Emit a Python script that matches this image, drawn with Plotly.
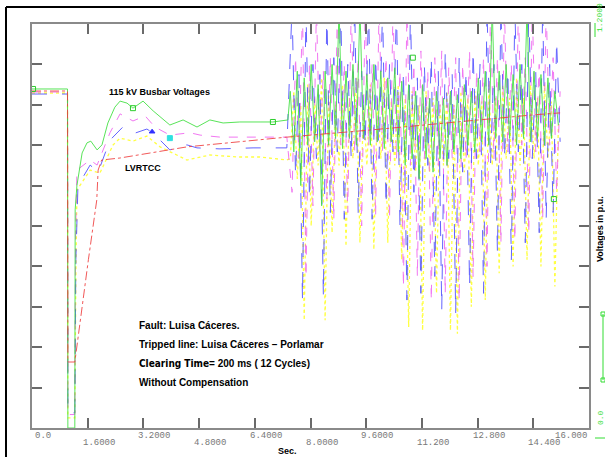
import plotly.graph_objects as go

# ---------------- data ----------------
x_tick_vals = [0.0, 1.6, 3.2, 4.8, 6.4, 8.0, 9.6, 11.2, 12.8, 14.4, 16.0]
x_tick_text = ["0.0", "1.6000", "3.2000", "4.8000", "6.4000", "8.0000",
               "9.6000", "11.200", "12.800", "14.400", "16.000"]
y_tick_vals = [0.0, 0.12, 0.24, 0.36, 0.48, 0.60, 0.72, 0.84, 0.96, 1.08, 1.2]

# smooth part (pre-fault, fault, recovery) ---------------------------
green_t = [0, 1.02, 1.03, 1.23, 1.24, 1.29, 1.44, 1.58, 1.69, 1.87, 2.01, 2.18,
           2.38, 2.53, 2.73, 2.90, 3.19, 3.48, 3.96, 4.34, 4.74, 5.11, 5.49,
           5.97, 6.55, 6.92, 7.35]
green_v = [1.007, 1.007, 0.0, 0.0, 0.648, 0.72, 0.817, 0.847, 0.852, 0.826,
           0.841, 0.906, 0.953, 0.971, 0.965, 0.950, 0.971, 0.942, 0.900,
           0.915, 0.894, 0.915, 0.906, 0.909, 0.909, 0.909, 0.915]

magenta_t = [0, 1.02, 1.03, 1.23, 1.25, 1.29, 1.67, 1.87, 2.24, 2.53, 2.90,
             3.25, 3.53, 3.96, 4.54, 4.83, 5.40, 6.35, 7.32]
magenta_v = [0.998, 0.998, 0.040, 0.040, 0.56, 0.766, 0.796, 0.781, 0.877,
             0.933, 0.912, 0.927, 0.894, 0.870, 0.877, 0.870, 0.864, 0.864, 0.864]

blue_t = [0, 1.02, 1.03, 1.23, 1.26, 1.32, 1.67, 1.90, 2.24, 2.61, 2.96, 3.30,
          3.48, 3.96, 4.45, 4.74, 5.40, 6.35, 7.32]
blue_v = [0.992, 0.992, 0.045, 0.045, 0.50, 0.72, 0.781, 0.760, 0.855, 0.894,
          0.876, 0.888, 0.876, 0.826, 0.841, 0.832, 0.829, 0.832, 0.832]

yellow_t = [0, 1.02, 1.03, 1.23, 1.26, 1.29, 1.67, 1.95, 2.33, 2.53, 2.90,
            3.30, 3.68, 4.25, 4.45, 5.11, 5.89, 6.55, 7.32]
yellow_v = [0.995, 0.995, 0.030, 0.030, 0.45, 0.707, 0.766, 0.757, 0.841,
            0.861, 0.852, 0.867, 0.835, 0.805, 0.796, 0.811, 0.805, 0.805, 0.796]

lvrtcc_t = [0, 1.02, 1.03, 1.23, 1.62, 1.86, 1.90, 2.00, 2.53, 4.45, 7.32,
            9.71, 14.39, 15.17]
lvrtcc_v = [1.001, 1.001, 0.196, 0.196, 0.50, 0.677, 0.766, 0.796, 0.802,
            0.835, 0.864, 0.885, 0.930, 0.936]

# oscillating part (after ~7.4 s) ----------------------------------
osc_t_a = [7.42, 7.52, 7.62, 7.72, 7.82, 7.92, 8.02, 8.12, 8.22, 8.32,
           8.42, 8.52, 8.62, 8.72, 8.82, 8.92, 9.02, 9.12, 9.22, 9.32,
           9.42, 9.52, 9.62, 9.72, 9.82, 9.92, 10.02, 10.12, 10.22, 10.32,
           10.42, 10.52, 10.62, 10.72, 10.82, 10.92, 11.02, 11.12, 11.22, 11.32,
           11.42, 11.52, 11.62, 11.72, 11.82, 11.92, 12.02, 12.12, 12.22, 12.32,
           12.42, 12.52, 12.62, 12.72, 12.82, 12.92, 13.02, 13.12, 13.22, 13.32,
           13.42, 13.52, 13.62, 13.72, 13.82, 13.92, 14.02, 14.12, 14.22, 14.32,
           14.42, 14.52, 14.62, 14.72, 14.82, 14.92, 15.02, 15.12]
osc_t_b = [7.47, 7.57, 7.67, 7.77, 7.87, 7.97, 8.07, 8.17, 8.27, 8.37,
           8.47, 8.57, 8.67, 8.77, 8.87, 8.97, 9.07, 9.17, 9.27, 9.37,
           9.47, 9.57, 9.67, 9.77, 9.87, 9.97, 10.07, 10.17, 10.27, 10.37,
           10.47, 10.57, 10.67, 10.77, 10.87, 10.97, 11.07, 11.17, 11.27, 11.37,
           11.47, 11.57, 11.67, 11.77, 11.87, 11.97, 12.07, 12.17, 12.27, 12.37,
           12.47, 12.57, 12.67, 12.77, 12.87, 12.97, 13.07, 13.17, 13.27, 13.37,
           13.47, 13.57, 13.67, 13.77, 13.87, 13.97, 14.07, 14.17, 14.27, 14.37,
           14.47, 14.57, 14.67, 14.77, 14.87, 14.97, 15.07, 15.17]

green_osc = [1.00, 0.82, 1.06, 0.72, 1.04, 0.84, 1.08, 0.85, 1.02, 0.66,
             1.06, 0.84, 1.08, 0.86, 1.25, 0.83, 1.06, 0.86, 1.08, 0.84,
             1.25, 0.86, 1.05, 0.84, 1.08, 0.85, 1.06, 0.83, 1.04, 0.85,
             1.07, 0.82, 1.03, 0.78, 1.02, 0.80, 1.00, 0.74, 1.02, 0.80,
             0.98, 0.76, 1.00, 0.80, 0.98, 0.78, 1.00, 0.82, 0.99, 0.80,
             1.02, 0.84, 1.00, 0.82, 1.04, 0.85, 1.06, 0.84, 1.25, 0.86,
             1.06, 0.85, 1.08, 0.86, 1.05, 0.84, 1.08, 0.86, 1.25, 0.85,
             1.06, 0.86, 1.05, 0.84, 1.04, 0.86, 1.00, 0.90]
blue_osc = [1.25, 0.75, 1.05, 0.38, 1.25, 0.68, 1.08, 0.80, 1.05, 0.39,
            1.25, 0.64, 1.10, 0.82, 1.25, 0.62, 1.08, 0.80, 1.25, 0.64,
            1.06, 0.84, 1.25, 0.62, 1.10, 0.80, 1.25, 0.66, 1.08, 0.82,
            1.25, 0.60, 1.06, 0.38, 1.25, 0.70, 1.04, 0.40, 1.08, 0.78,
            1.10, 0.45, 1.06, 0.35, 1.12, 0.80, 1.05, 0.34, 1.10, 0.76,
            1.06, 0.42, 1.12, 0.80, 1.08, 0.40, 1.25, 0.78, 1.08, 0.52,
            1.25, 0.80, 1.06, 0.50, 1.25, 0.82, 1.08, 0.55, 1.25, 0.80,
            1.06, 0.58, 1.25, 0.62, 1.08, 0.64, 1.15, 0.85]
magenta_osc = [0.70, 1.10, 0.80, 1.25, 0.45, 1.08, 0.66, 1.25, 0.82, 1.06,
               0.68, 1.10, 0.62, 1.25, 0.84, 1.08, 0.64, 1.25, 0.82, 1.10,
               0.60, 1.25, 0.84, 1.08, 0.63, 1.25, 0.82, 1.10, 0.62, 1.25,
               0.80, 1.06, 0.42, 1.25, 0.78, 1.08, 0.45, 1.12, 0.80, 1.06,
               0.38, 1.10, 0.78, 1.12, 0.40, 1.07, 0.80, 1.10, 0.38, 1.08,
               0.80, 1.12, 0.45, 1.06, 0.82, 1.10, 0.48, 1.25, 0.80, 1.10,
               0.55, 1.25, 0.82, 1.08, 0.56, 1.25, 0.84, 1.10, 0.58, 1.25,
               0.82, 1.08, 0.62, 1.25, 0.84, 1.10, 0.70, 1.00]
yellow_osc = [0.80, 1.00, 0.74, 0.96, 0.32, 1.02, 0.60, 0.98, 0.78, 1.04,
              0.32, 1.00, 0.58, 0.96, 0.78, 1.02, 0.54, 0.98, 0.80, 1.04,
              0.55, 0.96, 0.78, 1.02, 0.53, 0.98, 0.80, 1.04, 0.55, 0.97,
              0.78, 1.02, 0.50, 0.98, 0.30, 1.00, 0.76, 0.96, 0.29, 1.00,
              0.76, 0.98, 0.40, 0.96, 0.78, 1.00, 0.29, 0.96, 0.28, 1.00,
              0.76, 0.98, 0.36, 1.00, 0.78, 0.97, 0.38, 1.02, 0.78, 0.98,
              0.46, 1.02, 0.80, 0.98, 0.48, 1.04, 0.78, 0.98, 0.50, 1.02,
              0.80, 0.98, 0.48, 1.02, 0.80, 0.97, 0.42, 0.90]

# small curve markers seen on the plot
green_mark_t = [0.03, 2.90, 6.92, 10.94, 14.99]
green_mark_v = [1.007, 0.950, 0.909, 1.10, 0.68]
cyan_mark_t = [3.96]
cyan_mark_v = [0.861]
blue_mark_t = [3.45]
blue_mark_v = [0.880]

# ---------------- layout constants (pixels) ----------------
W, H = 605, 457
L, R, T, B = 32, 589, 24, 428


def px(xp):
    return (xp - L) / (R - L)


def py(yp):
    return (B - yp) / (B - T)


fig = go.Figure()

series = [
    (yellow_t + osc_t_a, yellow_v + yellow_osc, "#ffff22", "dot", 1.3),
    (magenta_t + osc_t_b, magenta_v + magenta_osc, "#f060f0", "dash", 1.0),
    (blue_t + osc_t_b, blue_v + blue_osc, "#4848ff", "longdash", 1.0),
    (green_t + osc_t_a, green_v + green_osc, "#3ce03c", "solid", 1.0),
    (lvrtcc_t, lvrtcc_v, "#f03c3c", "dashdot", 1.0),
]
for xs, ys, col, dash, w in series:
    fig.add_trace(go.Scatter(x=xs, y=ys, mode="lines",
                             line=dict(color=col, width=w, dash=dash),
                             opacity=0.85,
                             hoverinfo="skip", showlegend=False))

for xs, ys, col, sym in [(green_mark_t, green_mark_v, "#2ccc2c", "square-open"),
                         (cyan_mark_t, cyan_mark_v, "#30e0e0", "square"),
                         (blue_mark_t, blue_mark_v, "#3030ff", "triangle-up")]:
    fig.add_trace(go.Scatter(x=xs, y=ys, mode="markers",
                             marker=dict(color=col, size=5, symbol=sym,
                                         line=dict(color=col, width=1)),
                             hoverinfo="skip", showlegend=False))

axis_common = dict(showgrid=False, zeroline=False, showline=True,
                   linecolor="#8a8a8a", linewidth=1.5, mirror="ticks",
                   ticks="inside", ticklen=10, tickwidth=1.5,
                   tickcolor="#6a6a6a", showticklabels=False)
fig.update_xaxes(range=[0, 16], tickvals=x_tick_vals, **axis_common)
fig.update_yaxes(range=[0, 1.2], tickvals=y_tick_vals, **axis_common)

ann = []
tick_font = dict(family="Liberation Mono", size=9, color="#777")
# x tick labels in two staggered rows
for i, (v, s) in enumerate(zip(x_tick_vals, x_tick_text)):
    last = i == len(x_tick_vals) - 1
    ann.append(dict(x=v, y=0, xref="x", yref="paper", text=s,
                    xanchor="right" if last else "left", yanchor="top",
                    xshift=0 if last else (1 if i == 0 else -7),
                    yshift=(-1 if i % 2 == 0 else -8),
                    showarrow=False, font=tick_font))

bold = dict(family="Liberation Sans", size=10, color="black")
small_bold = dict(family="Liberation Sans", size=9, color="black")
texts = [
    ("<b>115 kV Busbar Voltages</b>", 107, 92, small_bold),
    ("<b>LVRTCC</b>", 123, 168, small_bold),
    ("<b>Fault: Luisa Cáceres.</b>", 137, 325, bold),
    ("<b>Tripped line: Luisa Cáceres – Porlamar</b>", 137, 344, bold),
    ("<span style=\"font-family:'DejaVu Sans Condensed'\"><b>Clearing Time</b></span>"
     "<b>= 200 ms ( 12 Cycles)</b>", 137, 363, bold),
    ("<b>Without Compensation</b>", 137, 382, bold),
]
for s, xp, yp, f in texts:
    ann.append(dict(x=px(xp), y=py(yp), xref="paper", yref="paper", text=s,
                    xanchor="left", yanchor="middle", showarrow=False, font=f))

ann.append(dict(x=px(287), y=py(451), xref="paper", yref="paper",
                xanchor="center", yanchor="middle",
                text="<b>Sec.</b>", showarrow=False, font=small_bold))
ann.append(dict(x=px(600), y=py(229), xref="paper", yref="paper",
                xanchor="center", yanchor="middle",
                text="<b>Voltages in p.u.</b>", textangle=-90,
                showarrow=False, font=small_bold))
green_font = dict(family="Liberation Mono", size=8, color="#33dd33")
ann.append(dict(x=px(600), y=py(18), xref="paper", yref="paper",
                xanchor="center", yanchor="middle",
                text="1.2000", textangle=-90, showarrow=False, font=green_font))
ann.append(dict(x=px(600), y=py(418), xref="paper", yref="paper",
                xanchor="center", yanchor="middle",
                text="0.0", textangle=-90, showarrow=False, font=green_font))

shapes = [
    # outer frame (black)
    dict(type="line", xref="paper", yref="paper", x0=px(6), x1=px(610),
         y0=py(7), y1=py(7), line=dict(color="black", width=2)),
    dict(type="line", xref="paper", yref="paper", x0=px(6), x1=px(6),
         y0=py(7), y1=py(470), line=dict(color="black", width=2)),
    # green scale marks on the right
    dict(type="line", xref="paper", yref="paper", x0=px(595), x1=px(595),
         y0=py(23), y1=py(37), line=dict(color="#33dd33", width=1)),
    dict(type="line", xref="paper", yref="paper", x0=px(595), x1=px(606),
         y0=py(438), y1=py(438), line=dict(color="#33dd33", width=1)),
    dict(type="line", xref="paper", yref="paper", x0=px(603), x1=px(603),
         y0=py(314), y1=py(380), line=dict(color="#33dd33", width=1)),
    dict(type="rect", xref="paper", yref="paper", x0=px(601), x1=px(605),
         y0=py(312), y1=py(316), line=dict(color="#33dd33", width=1)),
    dict(type="rect", xref="paper", yref="paper", x0=px(601), x1=px(605),
         y0=py(378), y1=py(382), line=dict(color="#33dd33", width=1)),
]

fig.update_layout(width=W, height=H, autosize=False,
                  margin=dict(l=L, r=W - R, t=T, b=H - B, pad=0),
                  paper_bgcolor="white", plot_bgcolor="white",
                  annotations=ann, shapes=shapes)

fig.write_html("out.html", config={"displayModeBar": False})
